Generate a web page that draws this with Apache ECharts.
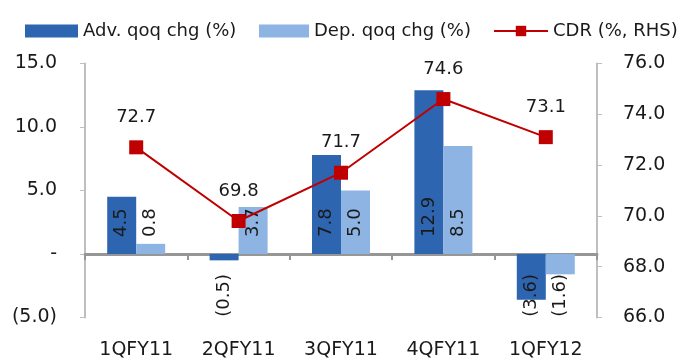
<!DOCTYPE html>
<html>
<head>
<meta charset="utf-8">
<script src="https://cdn.jsdelivr.net/npm/echarts@6/dist/echarts.min.js"></script>
<style>
  html, body { margin: 0; padding: 0; background: #fff; }
  #chart { width: 677px; height: 363px; }
</style>
</head>
<body>
<div id="chart"></div>
<script>
// Quarterly advances / deposits growth and credit-deposit ratio
const categories = ['1QFY11', '2QFY11', '3QFY11', '4QFY11', '1QFY12'];
const advChg = [4.5, -0.5, 7.8, 12.9, -3.6];
const depChg = [0.8, 3.7, 5.0, 8.5, -1.6];
const cdr = [72.7, 69.8, 71.7, 74.6, 73.1];
const leftTicks = { min: -5, max: 15, interval: 5 };
const rightTicks = { min: 66, max: 76, interval: 2 };

const FONT = 'DejaVu Sans';
const TEXT = '#1a1a1a';

function fmtLeft(v) {
  if (v === 0) return '-';
  return v < 0 ? '(' + Math.abs(v).toFixed(1) + ')' : v.toFixed(1);
}
function fmtBar(v) {
  return v < 0 ? '(' + Math.abs(v).toFixed(1) + ')' : v.toFixed(1);
}

// Rotated labels anchored at the zero line: upward for gains, downward for falls
function barData(values) {
  return values.map(v => ({
    value: v,
    label: v >= 0
      ? { position: 'insideBottom', distance: 17, align: 'left' }
      : { position: 'insideTop', distance: 20, align: 'right' }
  }));
}

const barLabel = {
  show: true,
  rotate: 90,
  verticalAlign: 'middle',
  fontFamily: FONT,
  fontSize: 18,
  color: TEXT,
  formatter: p => fmtBar(p.value)
};

const legendText = { fontFamily: FONT, fontSize: 18, color: TEXT };

const chart = echarts.init(document.getElementById('chart'), null, { renderer: 'canvas' });
chart.setOption({
  animation: false,
  backgroundColor: '#ffffff',
  legend: [
    { data: [{ name: 'Adv. qoq chg (%)', icon: 'rect' }], left: 20, top: 17, itemWidth: 53, itemHeight: 13, itemGap: 0, textStyle: legendText },
    { data: [{ name: 'Dep. qoq chg (%)', icon: 'rect' }], left: 254, top: 17, itemWidth: 50, itemHeight: 13, itemGap: 0, textStyle: legendText },
    { data: ['CDR (%, RHS)'], left: 488, top: 17, itemWidth: 54, itemHeight: 13, itemGap: 0, textStyle: legendText }
  ],
  grid: { left: 85, right: 80, top: 63.5, bottom: 45.5 },
  xAxis: [
    {
      type: 'category',
      data: categories,
      axisLine: { show: true, onZero: true, onZeroAxisIndex: 0, lineStyle: { color: '#969696', width: 3 } },
      axisTick: { show: true, length: 6, lineStyle: { color: '#969696', width: 2 } },
      axisLabel: { show: false },
      splitLine: { show: false }
    },
    {
      type: 'category',
      data: categories,
      position: 'bottom',
      axisLine: { show: false, onZero: false },
      axisTick: { show: false },
      axisLabel: { show: true, margin: 23, fontFamily: FONT, fontSize: 19, color: TEXT },
      splitLine: { show: false }
    }
  ],
  yAxis: [
    {
      type: 'value',
      min: leftTicks.min, max: leftTicks.max, interval: leftTicks.interval,
      position: 'left',
      axisLine: { show: true, lineStyle: { color: '#bfbfbf', width: 2 } },
      axisTick: { show: true, length: 5, lineStyle: { color: '#bfbfbf', width: 1 } },
      axisLabel: { margin: 28, fontFamily: FONT, fontSize: 19, color: TEXT, formatter: fmtLeft },
      splitLine: { show: false }
    },
    {
      type: 'value',
      min: rightTicks.min, max: rightTicks.max, interval: rightTicks.interval,
      position: 'right',
      axisLine: { show: true, lineStyle: { color: '#bfbfbf', width: 2 } },
      axisTick: { show: true, length: 5, lineStyle: { color: '#bfbfbf', width: 1 } },
      axisLabel: { margin: 26, fontFamily: FONT, fontSize: 19, color: TEXT, formatter: v => v.toFixed(1) },
      splitLine: { show: false }
    }
  ],
  series: [
    {
      name: 'Adv. qoq chg (%)',
      type: 'bar',
      xAxisIndex: 0, yAxisIndex: 0,
      barWidth: 29,
      barGap: '0%',
      itemStyle: { color: '#2e65b0' },
      label: barLabel,
      data: barData(advChg),
      z: 2
    },
    {
      name: 'Dep. qoq chg (%)',
      type: 'bar',
      xAxisIndex: 0, yAxisIndex: 0,
      barWidth: 29,
      barGap: '0%',
      itemStyle: { color: '#8eb4e3' },
      label: barLabel,
      data: barData(depChg),
      z: 2
    },
    {
      name: 'CDR (%, RHS)',
      type: 'line',
      xAxisIndex: 0, yAxisIndex: 1,
      symbol: 'rect',
      symbolSize: 14,
      lineStyle: { color: '#c00000', width: 2 },
      itemStyle: { color: '#c00000' },
      label: {
        show: true, position: 'top', distance: 14,
        fontFamily: FONT, fontSize: 18, color: TEXT,
        formatter: p => p.value.toFixed(1)
      },
      data: cdr,
      z: 5
    }
  ]
});
</script>
</body>
</html>
